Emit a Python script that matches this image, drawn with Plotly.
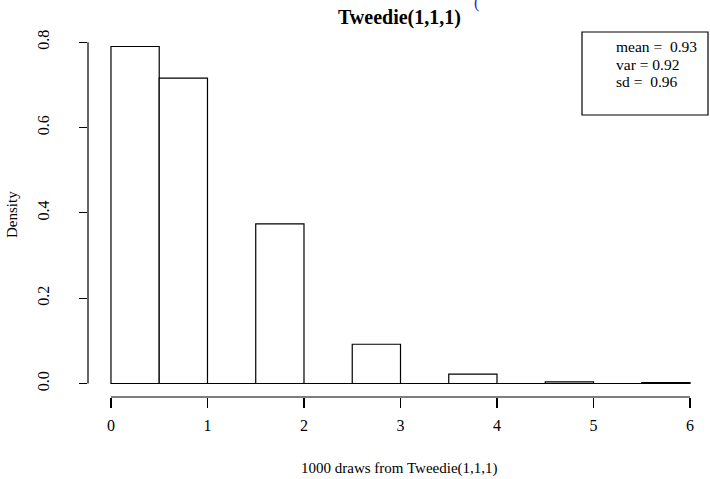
import plotly.graph_objects as go

bin_edges = [0, 0.5, 1, 1.5, 2, 2.5, 3, 3.5, 4, 4.5, 5, 5.5, 6]
densities = [0.79, 0.716, 0.0, 0.374, 0.0, 0.092, 0.0, 0.022, 0.0, 0.004, 0.0, 0.002]
x_ticks = [0, 1, 2, 3, 4, 5, 6]
y_ticks = [0.0, 0.2, 0.4, 0.6, 0.8]
y_tick_labels = ["0.0", "0.2", "0.4", "0.6", "0.8"]
stats_lines = ["mean =  0.93", "var = 0.92", "sd =  0.96"]
title_text = "Tweedie(1,1,1)"
x_title = "1000 draws from Tweedie(1,1,1)"
y_title = "Density"

FONT = "Liberation Serif"

mids = [(a + b) / 2 for a, b in zip(bin_edges[:-1], bin_edges[1:])]
widths = [b - a for a, b in zip(bin_edges[:-1], bin_edges[1:])]

fig = go.Figure()
fig.add_trace(go.Bar(
    x=mids, y=densities, width=widths,
    marker=dict(color="white", line=dict(color="black", width=1.2)),
    showlegend=False, hoverinfo="skip",
))
# baseline of zero-height rectangles (R draws every bin)
fig.add_trace(go.Scatter(
    x=bin_edges, y=[0] * len(bin_edges), mode="lines",
    line=dict(color="black", width=1.2), showlegend=False, hoverinfo="skip",
))

fig.update_layout(
    width=710, height=479,
    margin=dict(l=88, r=0, t=33, b=82),
    paper_bgcolor="white", plot_bgcolor="white",
    font=dict(family=FONT, size=16, color="black"),
    bargap=0,
    xaxis=dict(
        range=[-0.238, 6.207], tickvals=x_ticks, ticktext=[str(v) for v in x_ticks],
        ticks="outside", ticklen=10, tickwidth=1.2, tickcolor="black",
        ticklabelstandoff=4,
        showgrid=False, zeroline=False, showline=False,
        tickfont=dict(family=FONT, size=16),
    ),
    yaxis=dict(
        range=[-0.0316, 0.8216], tickvals=y_ticks, ticktext=y_tick_labels,
        ticks="outside", ticklen=8, tickwidth=1.2, tickcolor="black",
        tickangle=-90, ticklabelstandoff=24,
        showgrid=False, zeroline=False, showline=False,
        tickfont=dict(family=FONT, size=16),
    ),
)

# axis lines spanning only the tick range, as in R
fig.add_shape(type="line", xref="x", yref="paper",
              x0=x_ticks[0], x1=x_ticks[-1], y0=0, y1=0,
              line=dict(color="black", width=1.2))
fig.add_shape(type="line", xref="paper", yref="y",
              x0=0, x1=0, y0=y_ticks[0], y1=y_ticks[-1],
              line=dict(color="black", width=1.2))

# title and axis titles
fig.add_annotation(text="<b>" + title_text + "</b>", xref="paper", yref="paper",
                   x=0.5, y=1, yshift=16, showarrow=False,
                   font=dict(family=FONT, size=20), xanchor="center", yanchor="middle")
fig.add_annotation(text="(", xref="paper", yref="paper", x=(476 - 88) / 622, y=1, yshift=30,
                   showarrow=False, font=dict(family=FONT, size=16, color="#2a2ab8"),
                   xanchor="center", yanchor="middle")
fig.add_annotation(text=x_title, xref="paper", yref="paper", x=0.5, y=0,
                   yshift=-71, showarrow=False, font=dict(family=FONT, size=15),
                   xanchor="center", yanchor="middle")
fig.add_annotation(text=y_title, xref="paper", yref="paper", x=0, y=0.5,
                   xshift=-76, showarrow=False, textangle=-90,
                   font=dict(family=FONT, size=15), xanchor="center", yanchor="middle")

# stats box
fig.add_shape(type="rect", xref="paper", yref="paper",
              x0=(582 - 88) / 622, x1=(708 - 88) / 622,
              y0=(397 - 115) / 364, y1=(397 - 32) / 364,
              line=dict(color="black", width=1.2), fillcolor="white")
for i, line in enumerate(stats_lines):
    fig.add_annotation(text=line, xref="paper", yref="paper",
                       x=(614 - 88) / 622, y=(397 - (47 + 17 * i)) / 364,
                       showarrow=False, xanchor="left", yanchor="middle",
                       font=dict(family=FONT, size=15.5))

fig.write_html("out.html", config={"displayModeBar": False, "staticPlot": True})

with open("out.html", "r", encoding="utf-8") as f:
    html = f.read()
html = html.replace("<head>", "<head><style>html,body{margin:0;padding:0;overflow:hidden;}</style>", 1)
with open("out.html", "w", encoding="utf-8") as f:
    f.write(html)
